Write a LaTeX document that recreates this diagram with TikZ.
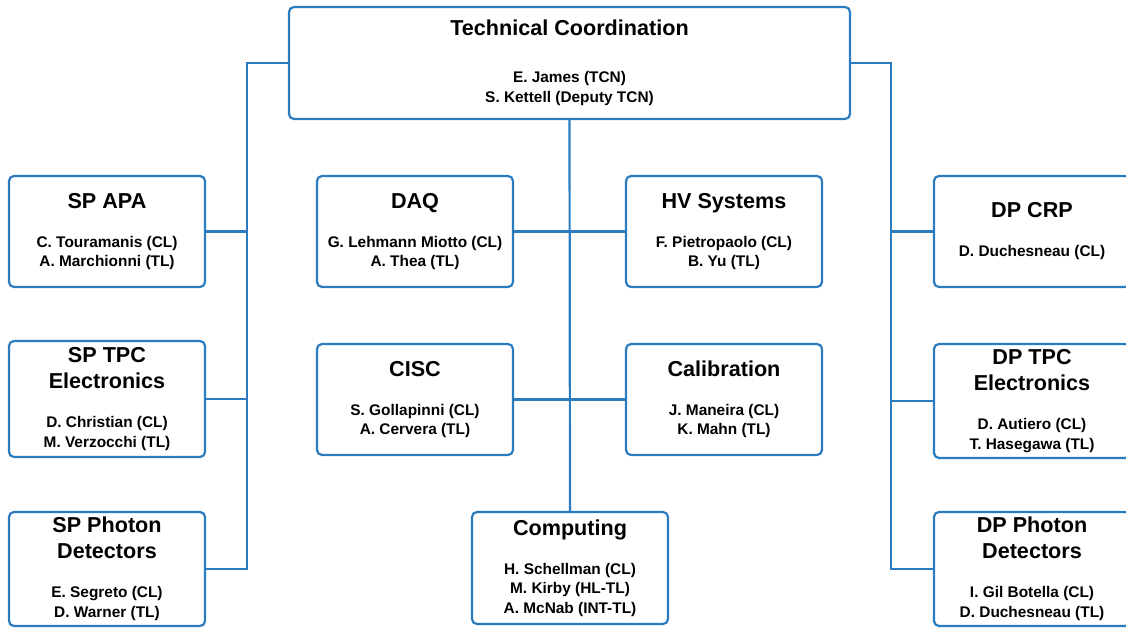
\documentclass[tikz,border=0pt]{standalone}
\usepackage{fontspec}
\setmainfont{Liberation Sans}
\usepackage{xcolor}
\usepackage{tikz}
\usetikzlibrary{positioning,calc}
\definecolor{orgblue}{HTML}{2B7CBF}
\newcommand{\grouphead}[1]{{\fontsize{21.6}{26}\selectfont #1}}

\begin{document}
\begin{tikzpicture}[x=1pt, y=-1pt,
    orgbox/.style={draw=orgblue, line width=2.2pt, rounded corners=5pt, fill=white,
      minimum width=196pt, minimum height=111pt, inner sep=0pt, align=center,
      font=\bfseries\fontsize{15.4}{19.5}\selectfont},
    link/.style={draw=orgblue, line width=2.2pt}]
    \useasboundingbox (0,0) rectangle (1126,628);
    \clip (0,0) rectangle (1126,628);

    % Top box
    \node[orgbox, minimum width=561pt, minimum height=112pt] (tc) at (569.5,63)
      {\grouphead{Technical Coordination}\\[27.5pt] E. James (TCN)\\S. Kettell (Deputy TCN)};

    % Single phase column
    \node[orgbox] (spapa) at (107,231.5)
      {\grouphead{SP APA}\\[19.5pt] C. Touramanis (CL)\\A. Marchionni (TL)};
    \node[orgbox, minimum height=116pt] (sptpc) at (107,399)
      {\grouphead{SP TPC}\\[6.5pt]\grouphead{Electronics}\\[19.5pt] D. Christian (CL)\\M. Verzocchi (TL)};
    \node[orgbox, minimum height=114pt] (sppd) at (107,569)
      {\grouphead{SP Photon}\\[6.5pt]\grouphead{Detectors}\\[19.5pt] E. Segreto (CL)\\D. Warner (TL)};

    % Shared groups
    \node[orgbox] (daq) at (415,231.5)
      {\grouphead{DAQ}\\[19.5pt] G. Lehmann Miotto (CL)\\A. Thea (TL)};
    \node[orgbox] (hv) at (724,231.5)
      {\grouphead{HV Systems}\\[19.5pt] F. Pietropaolo (CL)\\B. Yu (TL)};
    \node[orgbox] (cisc) at (415,399.5)
      {\grouphead{CISC}\\[19.5pt] S. Gollapinni (CL)\\A. Cervera (TL)};
    \node[orgbox] (calib) at (724,399.5)
      {\grouphead{Calibration}\\[19.5pt] J. Maneira (CL)\\K. Mahn (TL)};
    \node[orgbox, minimum height=112pt] (comp) at (570,568)
      {\grouphead{Computing}\\[19.5pt] H. Schellman (CL)\\M. Kirby (HL-TL)\\A. McNab (INT-TL)};

    % Dual phase column
    \node[orgbox] (dpcrp) at (1032,231.5)
      {\grouphead{DP CRP}\\[19.5pt] D. Duchesneau (CL)};
    \node[orgbox, minimum height=114pt] (dptpc) at (1032,401)
      {\grouphead{DP TPC}\\[6.5pt]\grouphead{Electronics}\\[19.5pt] D. Autiero (CL)\\T. Hasegawa (TL)};
    \node[orgbox, minimum height=114pt] (dppd) at (1032,569)
      {\grouphead{DP Photon}\\[6.5pt]\grouphead{Detectors}\\[19.5pt] I. Gil Botella (CL)\\D. Duchesneau (TL)};

    % Trunks
    \coordinate (ltrunk) at (247,0);
    \coordinate (rtrunk) at (891,0);
    \draw[link] (tc.west) -| (ltrunk |- sppd.east) -- (sppd.east);
    \draw[link] (spapa.east) -- (ltrunk |- spapa.east);
    \draw[link] (sptpc.east) -- (ltrunk |- sptpc.east);
    \draw[link] (tc.east) -| (rtrunk |- dppd.west) -- (dppd.west);
    \draw[link] (dpcrp.west) -- (rtrunk |- dpcrp.west);
    \draw[link] (dptpc.west) -- (rtrunk |- dptpc.west);
    \draw[link] (tc.south) -- (comp.north);
    \draw[link] (daq.east) -- (hv.west);
    \draw[link] (cisc.east) -- (calib.west);
  \end{tikzpicture}
\end{document}
